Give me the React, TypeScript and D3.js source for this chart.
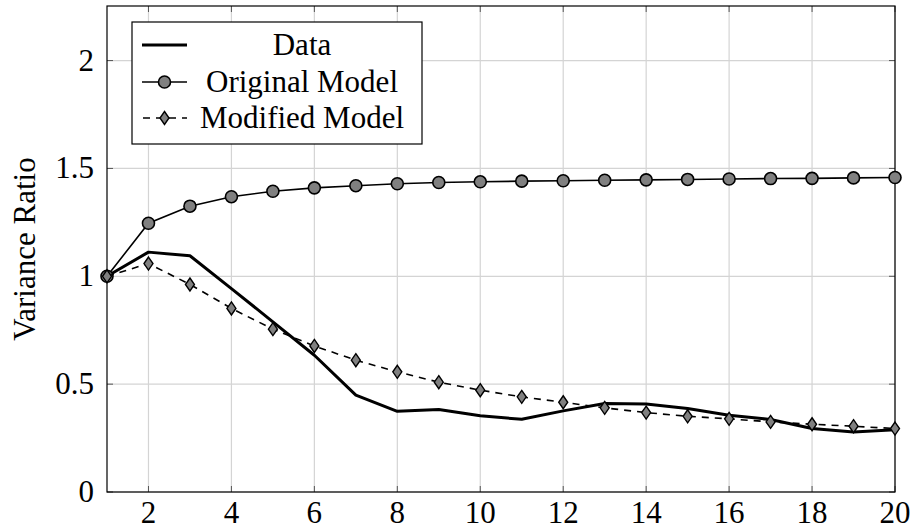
import React from 'react';
import * as d3 from 'd3';

// values
const steps = [1, 2, 3, 4, 5, 6, 7, 8, 9, 10, 11, 12, 13, 14, 15, 16, 17, 18, 19, 20];
const dataSeries = [1.0, 1.112, 1.095, 0.943, 0.789, 0.634, 0.449, 0.374, 0.382, 0.353, 0.337, 0.376, 0.41, 0.408, 0.387, 0.356, 0.336, 0.294, 0.278, 0.289];
const originalModel = [1.0, 1.246, 1.325, 1.369, 1.394, 1.41, 1.42, 1.429, 1.435, 1.438, 1.441, 1.443, 1.445, 1.447, 1.449, 1.451, 1.453, 1.454, 1.456, 1.458];
const modifiedModel = [1.0, 1.059, 0.962, 0.851, 0.755, 0.677, 0.611, 0.557, 0.509, 0.472, 0.441, 0.416, 0.39, 0.368, 0.351, 0.339, 0.325, 0.314, 0.305, 0.294];
const xTicks = [2, 4, 6, 8, 10, 12, 14, 16, 18, 20];
const yTicks = [0, 0.5, 1, 1.5, 2];
const legendLabels = ['Data', 'Original Model', 'Modified Model'];
const yLabel = 'Variance Ratio';

const W = 912;
const H = 531;
const margin = { top: 6, right: 17, bottom: 39, left: 107 };
const FONT = "'Liberation Serif', 'Times New Roman', serif";

export default function App() {
  const x = d3.scaleLinear().domain([1, 20]).range([margin.left, W - margin.right]);
  const y = d3.scaleLinear().domain([0, 2.253]).range([H - margin.bottom, margin.top]);
  const [x0, x1] = x.range();
  const [y0, y1] = y.range();

  const line = d3.line<number>().x((_, i) => x(steps[i])).y(d => y(d));
  const diamond = (cx: number, cy: number) =>
    `M${cx},${cy - 6.5}L${cx + 4.5},${cy}L${cx},${cy + 6.5}L${cx - 4.5},${cy}Z`;

  const tickLen = 6;
  const lx = 132, ly = 22, lw = 290, lh = 122;
  const rows = [45, 82, 118];
  const textCenter = 302;
  const txt = { fontFamily: FONT };

  return (
    <svg width={W} height={H} style={{ position: 'absolute', left: 0, top: 0, background: '#fff', fontFamily: FONT }}>
      {/* grid */}
      <g stroke="#d4d4d4" strokeWidth={1.2}>
        {xTicks.map(t => <line key={'gx' + t} x1={x(t)} x2={x(t)} y1={y0} y2={y1} />)}
        {yTicks.map(t => <line key={'gy' + t} x1={x0} x2={x1} y1={y(t)} y2={y(t)} />)}
      </g>
      {/* inside ticks */}
      <g stroke="#555" strokeWidth={1}>
        {xTicks.map(t => (
          <g key={'tx' + t}>
            <line x1={x(t)} x2={x(t)} y1={y0} y2={y0 - tickLen} />
            <line x1={x(t)} x2={x(t)} y1={y1} y2={y1 + tickLen} />
          </g>
        ))}
        {yTicks.map(t => (
          <g key={'ty' + t}>
            <line x1={x0} x2={x0 + tickLen} y1={y(t)} y2={y(t)} />
            <line x1={x1} x2={x1 - tickLen} y1={y(t)} y2={y(t)} />
          </g>
        ))}
      </g>
      <rect x={x0} y={y1} width={x1 - x0} height={y0 - y1} fill="none" stroke="#000" strokeWidth={1.2} />

      {/* tick labels */}
      <g fontSize={31} fill="#000">
        {xTicks.map(t => (
          <text key={'lx' + t} style={txt} x={x(t)} y={y0 + 31} textAnchor="middle">{t}</text>
        ))}
        {yTicks.map(t => (
          <text key={'ly' + t} style={txt} x={x0 - 13} y={y(t) + 10} textAnchor="end">{t}</text>
        ))}
      </g>
      <text style={txt} transform={`translate(35,${(y0 + y1) / 2}) rotate(-90)`} textAnchor="middle" fontSize={31}>{yLabel}</text>

      {/* series */}
      <path d={line(dataSeries) || ''} fill="none" stroke="#000" strokeWidth={3} strokeLinejoin="round" />

      <path d={line(originalModel) || ''} fill="none" stroke="#000" strokeWidth={1.6} />
      {originalModel.map((v, i) => (
        <circle key={'o' + i} cx={x(steps[i])} cy={y(v)} r={6} fill="#808080" stroke="#000" strokeWidth={1.6} />
      ))}

      <path d={line(modifiedModel) || ''} fill="none" stroke="#000" strokeWidth={1.6} strokeDasharray="7,6" />
      {modifiedModel.map((v, i) => (
        <path key={'m' + i} d={diamond(x(steps[i]), y(v))} fill="#808080" stroke="#000" strokeWidth={1.4} />
      ))}

      {/* legend */}
      <rect x={lx} y={ly} width={lw} height={lh} fill="#fff" stroke="#000" strokeWidth={1.2} />
      <line x1={142} x2={187} y1={rows[0]} y2={rows[0]} stroke="#000" strokeWidth={3} />
      <line x1={142} x2={187} y1={rows[1]} y2={rows[1]} stroke="#000" strokeWidth={1.6} />
      <circle cx={164.5} cy={rows[1]} r={6} fill="#808080" stroke="#000" strokeWidth={1.6} />
      <line x1={142} x2={187} y1={rows[2]} y2={rows[2]} stroke="#000" strokeWidth={1.6} strokeDasharray="7,6" strokeDashoffset={-1} />
      <path d={diamond(164.5, rows[2])} fill="#808080" stroke="#000" strokeWidth={1.4} />
      {legendLabels.map((l, i) => (
        <text key={l} style={txt} x={textCenter} y={rows[i] + 10} textAnchor="middle" fontSize={31}>{l}</text>
      ))}
    </svg>
  );
}
